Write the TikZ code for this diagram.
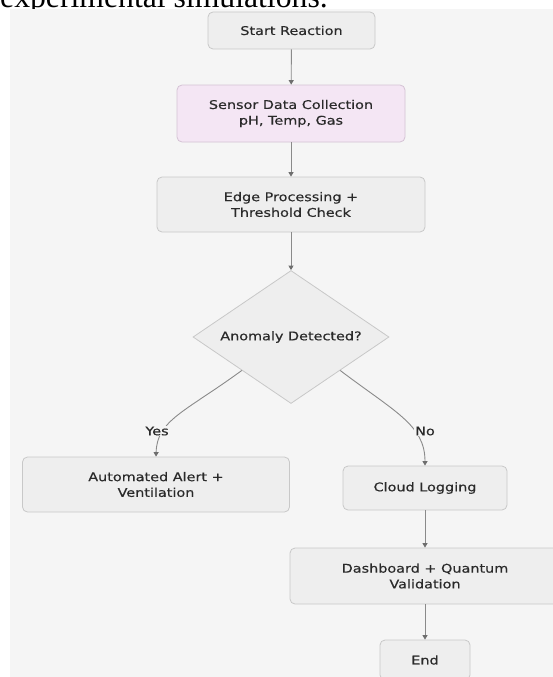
\documentclass[tikz,border=0pt]{standalone}
\usepackage{fontspec}
\setmainfont{Liberation Serif}
\newfontfamily\diagfont[FakeStretch=1.2,FakeBold=0.4]{DejaVu Sans}
\usetikzlibrary{shapes.geometric,arrows.meta}

\definecolor{pagebg}{HTML}{F5F5F5}
\definecolor{boxfill}{HTML}{EEEEEE}
\definecolor{boxline}{HTML}{C8C8C8}
\definecolor{sensorfill}{HTML}{F4E6F4}
\definecolor{sensorline}{HTML}{D4C2D4}
\definecolor{txt}{HTML}{2A2A2A}
\definecolor{edgeline}{HTML}{8A8A8A}
\definecolor{tipcolor}{HTML}{6E6E6E}

\tikzset{
  boxtext/.style={text=txt, font=\diagfont\fontsize{12}{15.7}\selectfont, align=center},
  procbox/.style={boxtext, draw=boxline, fill=boxfill, rounded corners=5pt,
    line width=0.8pt, inner sep=0pt},
  sensorbox/.style={procbox, draw=sensorline, fill=sensorfill},
  decision/.style={boxtext, diamond, aspect=1.5, draw=boxline, fill=boxfill,
    line width=0.8pt, inner sep=0pt},
  flow/.style={draw=edgeline, line width=0.9pt,
    -{Triangle[width=5pt,length=4.5pt,color=tipcolor]}},
  edgelabel/.style={boxtext, fill=pagebg, inner sep=1pt}
}

\begin{document}
\begin{tikzpicture}[x=1pt,y=-1pt]
  \useasboundingbox (0,0) rectangle (553,677);
  \clip (0,0) rectangle (553,677);
  \fill[white] (0,0) rectangle (553,677);

  % line of body text above the figure
  \node[anchor=base west, inner sep=0pt, font=\fontsize{31.7}{36}\selectfont]
    (caption) at (0,7.3) {experimental simulations.};

  % figure background
  \fill[pagebg] (10,9.5) rectangle (553,677);

  % process steps
  \node[procbox, minimum width=167pt, minimum height=37pt] (start) at (291.5,30.5) {Start Reaction};
  \node[sensorbox, minimum width=228pt, minimum height=57pt] (sensor) at (291,113.5)
    {Sensor Data Collection\\pH, Temp, Gas};
  \node[procbox, minimum width=268pt, minimum height=55pt] (edgeproc) at (291,204.5)
    {Edge Processing +\\Threshold Check};
  \node[decision, minimum width=196pt, minimum height=133pt] (dia) at (291,337) {Anomaly Detected?};
  \node[procbox, minimum width=267pt, minimum height=55pt] (alert) at (156,484.5)
    {Automated Alert +\\Ventilation};
  \node[procbox, minimum width=164pt, minimum height=44pt] (cloud) at (425,488) {Cloud Logging};
  \node[procbox, minimum width=270pt, minimum height=56pt] (dash) at (425,576)
    {Dashboard + Quantum\\Validation};
  \node[procbox, minimum width=90pt, minimum height=40pt] (finish) at (425,660) {End};

  % connectors
  \draw[flow] (start) -- (sensor);
  \draw[flow] (sensor) -- (edgeproc);
  \draw[flow] (edgeproc) -- (dia);
  \draw[flow] (dia.south west) .. controls (185,412) and (157,420) .. (alert.north);
  \draw[flow] (dia.south east) .. controls (395,412) and (425,425) .. (cloud.north);
  \draw[flow] (cloud) -- (dash);
  \draw[flow] (dash) -- (finish);

  % branch labels
  \node[edgelabel] (yes) at (157,431) {Yes};
  \node[edgelabel] (no) at (425,431) {No};
\end{tikzpicture}
\end{document}
